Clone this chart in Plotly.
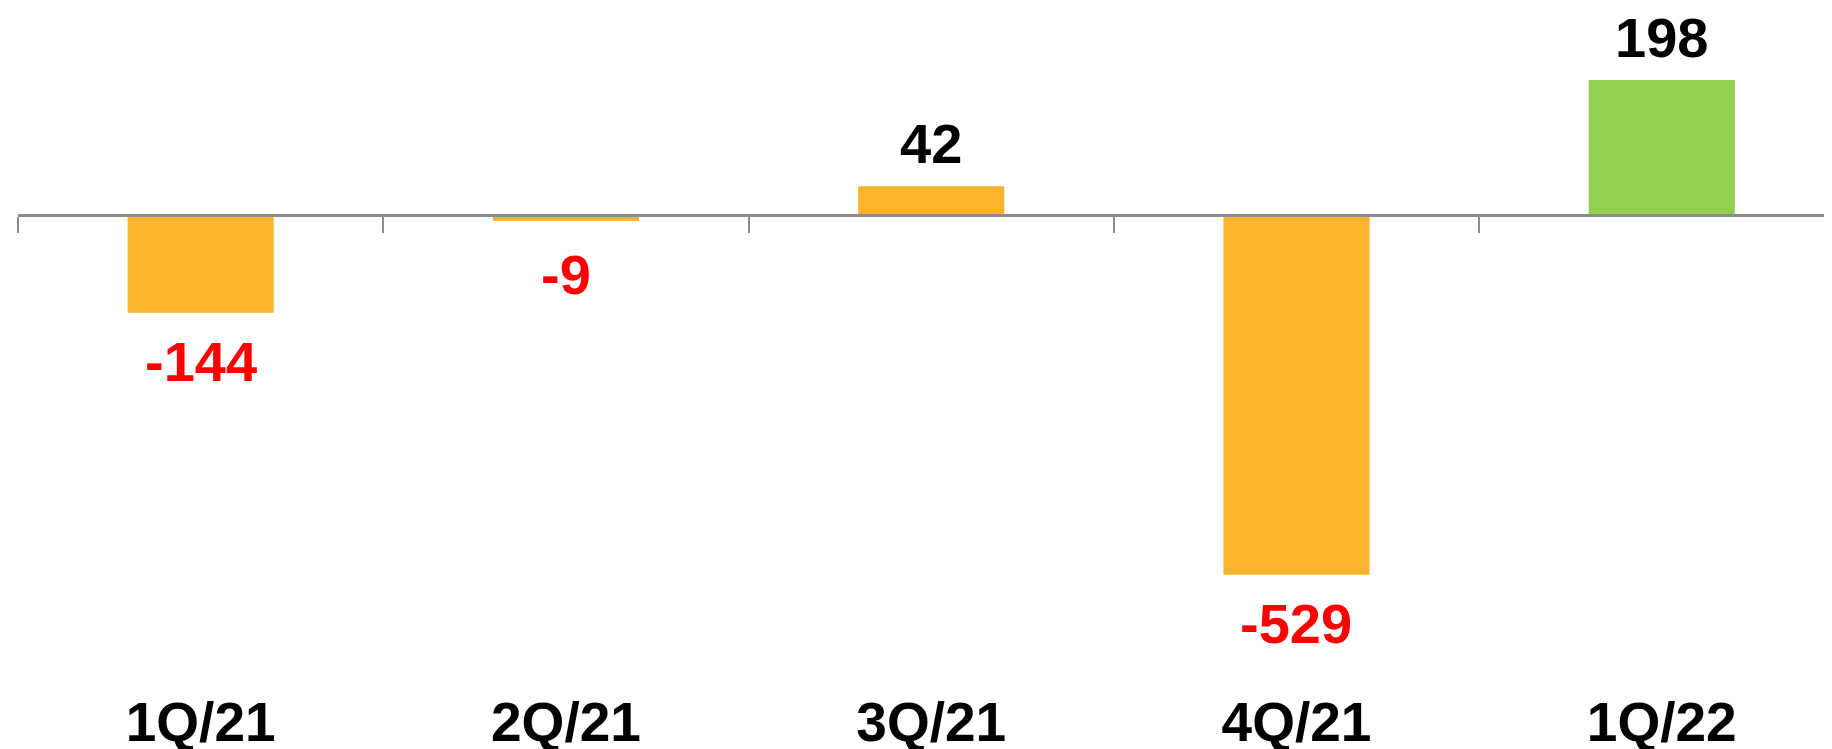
import plotly.graph_objects as go

categories = ["1Q/21", "2Q/21", "3Q/21", "4Q/21", "1Q/22"]
values = [-144, -9, 42, -529, 198]
bar_colors = ["#FBB32C", "#FBB32C", "#FBB32C", "#FBB32C", "#92D050"]

# page body has an 8px default margin, so the figure is sized to fit the window
W, H = 1824, 741
ml, mt, mb = 10, 0, 64
x_range = [-0.5, 4.466]
y_range = [-691, 304]
zero_pos = (0 - y_range[0]) / (y_range[1] - y_range[0])
px_per_unit = (H - mt - mb) / (y_range[1] - y_range[0])

FONT = "Liberation Sans, Arial, sans-serif"

fig = go.Figure()
fig.add_trace(go.Bar(
    x=categories, y=values,
    marker=dict(color=bar_colors, line=dict(width=0)),
    hoverinfo="skip", showlegend=False,
))
# invisible trace to host the zero-line axis
fig.add_trace(go.Scatter(x=[0], y=[0], xaxis="x2", mode="markers",
                         marker=dict(opacity=0), showlegend=False, hoverinfo="skip"))

for c, v in zip(categories, values):
    if v >= 0:
        shift = 9
    else:
        # keep negative labels clear of the zero line for very short bars
        shift = -max(15, 26.6 - abs(v) * px_per_unit)
    fig.add_annotation(
        x=c, y=v, text=str(v), showarrow=False,
        yanchor="bottom" if v >= 0 else "top",
        yshift=shift,
        font=dict(family=FONT, size=56, color="#000000" if v >= 0 else "#FF0000", weight="bold"),
    )

fig.update_layout(
    width=W, height=H,
    margin=dict(l=ml, r=0, t=mt, b=mb, autoexpand=False),
    paper_bgcolor="white", plot_bgcolor="white",
    bargap=0.6,
    xaxis=dict(
        type="category", range=x_range, showline=False, ticks="",
        showgrid=False, zeroline=False, automargin=False,
        tickfont=dict(family=FONT, size=55, color="#000000", weight="bold"),
        ticklabelstandoff=0,
    ),
    xaxis2=dict(
        overlaying="x", anchor="free", position=zero_pos, side="bottom",
        range=x_range, type="linear",
        tickvals=[i - 0.5 for i in range(len(categories))],
        ticks="outside", ticklen=16, tickwidth=1.5, tickcolor="#8C8C8C",
        showline=True, linecolor="#8C8C8C", linewidth=2.5,
        showticklabels=False, showgrid=False, zeroline=False,
    ),
    yaxis=dict(range=y_range, visible=False, showgrid=False, zeroline=False),
)

fig.write_html("out.html")
